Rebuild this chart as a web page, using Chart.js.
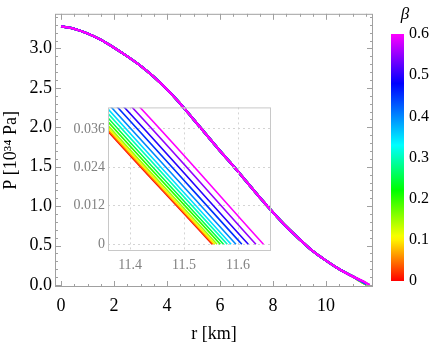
<!DOCTYPE html>
<html>
<head>
<meta charset="utf-8">
<script src="https://cdn.jsdelivr.net/npm/chart.js@4.4.1/dist/chart.umd.min.js"></script>
<style>
body { margin: 0; background: #fff; }
#wrap { position: relative; width: 436px; height: 347px; }
canvas { position: absolute; }
</style>
</head>
<body>
<div id="wrap">
  <canvas id="mainChart" width="436" height="347" style="left:0;top:0"></canvas>
  <canvas id="insetChart" width="220" height="185" style="left:60px;top:96px"></canvas>
  <canvas id="barChart" width="56" height="347" style="left:380px;top:0"></canvas>
</div>
<script>
// parameter values (one curve each)
const betas = [0, 0.05, 0.1, 0.15, 0.2, 0.25, 0.3, 0.35, 0.4, 0.45, 0.5, 0.55, 0.6];

// pressure profile (r in km, P in 10^34 Pa)
const rMain = [0, 0.5, 1, 1.5, 2, 2.5, 3, 3.5, 4, 4.5, 5, 5.5, 6, 6.5, 7, 7.5, 8, 8.5, 9, 9.5, 10, 10.5, 11];
const pMain = [3.28, 3.25, 3.19, 3.11, 3.01, 2.90, 2.78, 2.64, 2.48, 2.30, 2.10, 1.90, 1.70, 1.51, 1.31, 1.11, 0.92, 0.74, 0.58, 0.43, 0.31, 0.20, 0.11];

// tail of each curve: radius where P = 0.05 and where P = 0
const pTail = [0.05, 0];
const rAt05 = [11.282, 11.284, 11.287, 11.291, 11.297, 11.303, 11.310, 11.317, 11.326, 11.337, 11.349, 11.363, 11.377];
const rEnd = [11.552, 11.554, 11.557, 11.561, 11.567, 11.573, 11.580, 11.587, 11.596, 11.607, 11.619, 11.633, 11.647];

// tick labels
const xTicks = [0, 2, 4, 6, 8, 10];
const yTicks = [0, 0.5, 1, 1.5, 2, 2.5, 3];
const insetXTicks = [11.4, 11.5, 11.6];
const insetYTicks = [0, 0.012, 0.024, 0.036];
const betaTicks = [0, 0.1, 0.2, 0.3, 0.4, 0.5, 0.6];

const serif = '"Liberation Serif", "DejaVu Serif", serif';

// colour scale: beta -> hue (red, yellow, green, cyan, blue, magenta)
const hueStops = [[0, 0], [0.1, 57], [0.22, 120], [0.33, 180], [0.48, 240], [0.6, 300]];

function hueColor(b) {
    for (let k = 1; k < hueStops.length; k++) {
        const [b0, h0] = hueStops[k - 1];
        const [b1, h1] = hueStops[k];
        if (b <= b1 + 1e-9) {
            const h = h0 + (h1 - h0) * (b - b0) / (b1 - b0);
            return 'hsl(' + h + ', 100%, 50%)';
        }
    }
    return 'hsl(300, 100%, 50%)';
}

function buildDatasets(width) {
    return betas.map((b, i) => ({
        label: 'β = ' + b,
        data: rMain.map((r, j) => ({ x: r, y: pMain[j] }))
            .concat([{ x: rAt05[i], y: pTail[0] }, { x: rEnd[i], y: pTail[1] }]),
        borderColor: hueColor(b),
        borderWidth: width,
        pointRadius: 0,
        cubicInterpolationMode: 'monotone',
        order: betas.length - 1 - i // magenta on top
    }));
}

// frame with inward ticks on all four sides (Mathematica style)
const frameTicks = {
    id: 'frameTicks',
    afterDraw(chart) {
        const { ctx, chartArea: a, scales: { x, y } } = chart;
        ctx.save();
        ctx.strokeStyle = '#a0a0a0';
        ctx.lineWidth = 1;
        ctx.strokeRect(a.left + 0.5, a.top + 0.5, a.right - a.left - 1, a.bottom - a.top - 1);
        ctx.beginPath();
        for (let v = 0; v <= 11.51; v += 0.5) {
            const len = xTicks.includes(Math.round(v * 10) / 10) ? 6 : 3;
            const px = Math.round(x.getPixelForValue(v)) + 0.5;
            ctx.moveTo(px, a.bottom); ctx.lineTo(px, a.bottom - len);
            ctx.moveTo(px, a.top); ctx.lineTo(px, a.top + len);
        }
        for (let k = 0; k <= 34; k++) {
            const len = k % 5 === 0 ? 6 : 3;
            const py = Math.round(y.getPixelForValue(k / 10)) + 0.5;
            ctx.moveTo(a.left, py); ctx.lineTo(a.left + len, py);
            ctx.moveTo(a.right, py); ctx.lineTo(a.right - len, py);
        }
        ctx.stroke();
        ctx.restore();
    }
};

new Chart(document.getElementById('mainChart'), {
    type: 'line',
    data: { datasets: buildDatasets(2.3) },
    options: {
        responsive: false,
        animation: false,
        layout: { padding: { top: 3, right: 63, left: 0, bottom: 0 } },
        plugins: { legend: { display: false }, tooltip: { enabled: false } },
        scales: {
            x: {
                type: 'linear',
                min: -0.23,
                max: 11.77,
                afterBuildTicks: s => { s.ticks = xTicks.map(v => ({ value: v })); },
                afterFit: s => { s.height = 60; },
                ticks: { font: { family: serif, size: 18 }, color: '#000', padding: 8, maxRotation: 0 },
                grid: { display: false, drawTicks: false },
                border: { display: false },
                title: { display: true, text: 'r [km]', font: { family: serif, size: 18 }, color: '#000', padding: { top: 0, bottom: 2 } }
            },
            y: {
                min: -0.025,
                max: 3.44,
                afterBuildTicks: s => { s.ticks = yTicks.map(v => ({ value: v })); },
                afterFit: s => { s.width = 55; },
                ticks: { font: { family: serif, size: 18 }, color: '#000', padding: 3, callback: v => v.toFixed(1) },
                grid: { display: false, drawTicks: false },
                border: { display: false },
                title: { display: true, text: 'P [10³⁴ Pa]', font: { family: serif, size: 18 }, color: '#000', padding: { top: 0, bottom: 0 } }
            }
        }
    },
    plugins: [frameTicks]
});

// inset zoom on the surface region
const insetFrame = {
    id: 'insetFrame',
    afterDraw(chart) {
        const { ctx, chartArea: a } = chart;
        ctx.save();
        ctx.strokeStyle = '#c8c8c8';
        ctx.lineWidth = 1;
        ctx.strokeRect(a.left + 0.5, a.top + 0.5, a.right - a.left - 1, a.bottom - a.top - 1);
        ctx.restore();
    }
};

new Chart(document.getElementById('insetChart'), {
    type: 'line',
    data: { datasets: buildDatasets(1.6) },
    options: {
        responsive: false,
        animation: false,
        layout: { padding: { top: 8, right: 9, left: 0, bottom: 0 } },
        plugins: { legend: { display: false }, tooltip: { enabled: false } },
        scales: {
            x: {
                type: 'linear',
                min: 11.359,
                max: 11.661,
                afterBuildTicks: s => { s.ticks = insetXTicks.map(v => ({ value: v })); },
                afterFit: s => { s.height = 30; },
                ticks: { font: { family: serif, size: 14 }, color: '#808080', padding: 6, maxRotation: 0, callback: v => v.toFixed(1) },
                grid: { color: '#d4d4d4', drawTicks: false },
                border: { display: false, dash: [2, 3] }
            },
            y: {
                min: -0.0021,
                max: 0.0427,
                afterBuildTicks: s => { s.ticks = insetYTicks.map(v => ({ value: v })); },
                afterFit: s => { s.width = 48; },
                ticks: { font: { family: serif, size: 14 }, color: '#808080', padding: 3, callback: v => v === 0 ? '0' : v.toFixed(3) },
                grid: { color: '#d4d4d4', drawTicks: false },
                border: { display: false, dash: [2, 3] }
            }
        }
    },
    plugins: [insetFrame]
});

// colour bar legend for beta
const betaLabel = {
    id: 'betaLabel',
    afterDraw(chart) {
        const ctx = chart.ctx;
        ctx.save();
        ctx.font = 'italic 17px ' + serif;
        ctx.fillStyle = '#000';
        ctx.textAlign = 'center';
        ctx.textBaseline = 'middle';
        ctx.fillText('β', 25, 15);
        ctx.restore();
    }
};

new Chart(document.getElementById('barChart'), {
    type: 'bar',
    data: {
        labels: ['β'],
        datasets: [{
            data: [[betas[0], betas[betas.length - 1]]],
            backgroundColor: context => {
                const { ctx, chartArea } = context.chart;
                if (!chartArea) return null;
                const g = ctx.createLinearGradient(0, chartArea.bottom, 0, chartArea.top);
                for (let k = 0; k <= 60; k++) g.addColorStop(k / 60, hueColor(k / 100));
                return g;
            },
            borderWidth: 0,
            barPercentage: 1,
            categoryPercentage: 1
        }]
    },
    options: {
        responsive: false,
        animation: false,
        layout: { padding: { top: 34, right: 0, left: 11, bottom: 66 } },
        plugins: { legend: { display: false }, tooltip: { enabled: false } },
        scales: {
            x: { display: false },
            y: {
                position: 'right',
                min: 0,
                max: 0.6,
                afterBuildTicks: s => { s.ticks = betaTicks.map(v => ({ value: v })); },
                afterFit: s => { s.width = 32; },
                ticks: { font: { family: serif, size: 16 }, color: '#000', padding: 5, callback: v => v === 0 ? '0' : v.toFixed(1) },
                grid: { display: false, drawTicks: false },
                border: { display: false }
            }
        }
    },
    plugins: [betaLabel]
});
</script>
</body>
</html>
